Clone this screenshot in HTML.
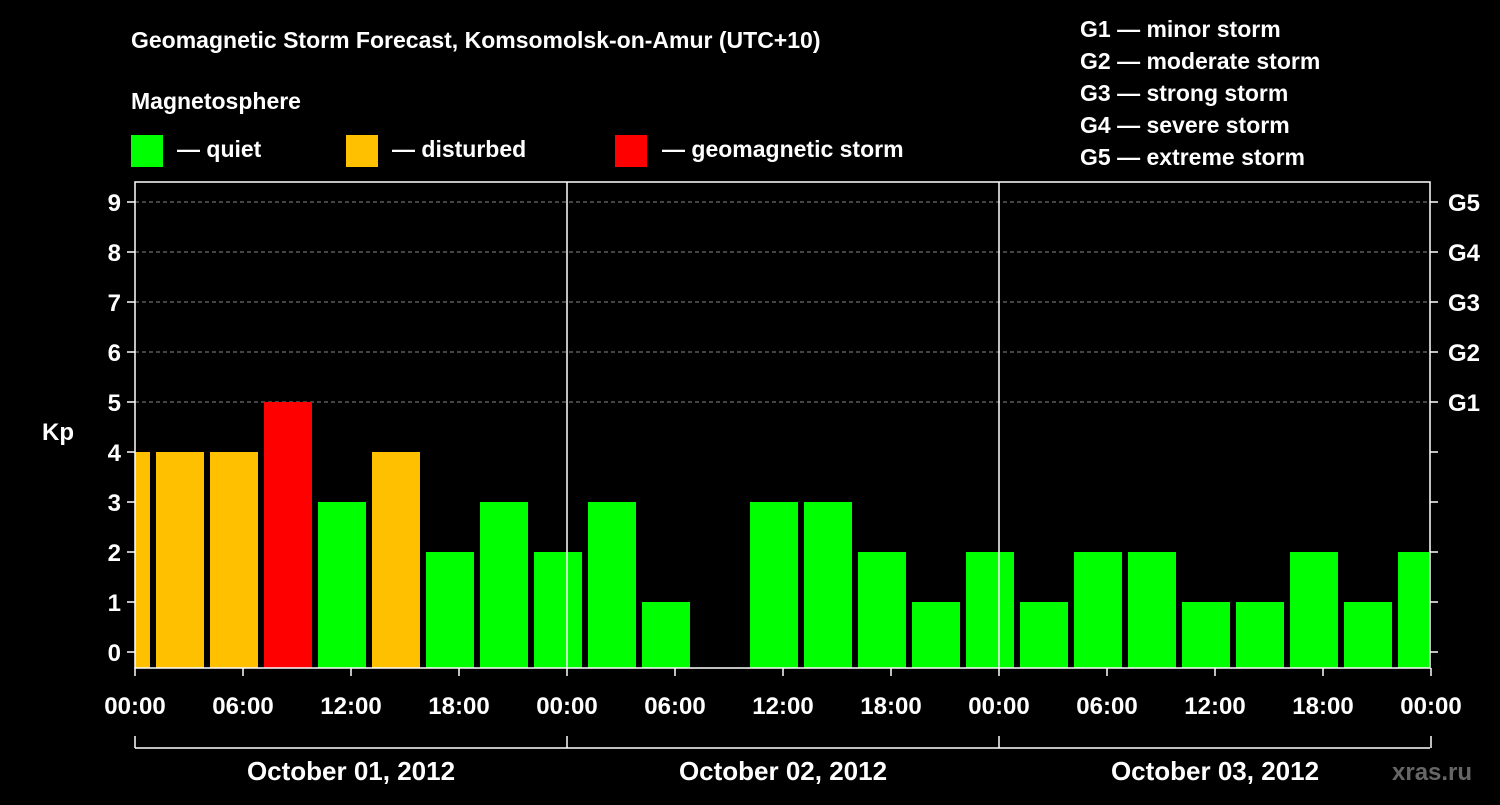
<!DOCTYPE html>
<html><head><meta charset="utf-8"><style>
body{margin:0;background:#000;}
svg text{font-family:"Liberation Sans",Arial,sans-serif;font-weight:bold;fill:#fff;}
</style></head><body>
<svg id="chart" width="1500" height="800" xmlns="http://www.w3.org/2000/svg">
<rect width="1500" height="800" fill="#000"/>
<text x="131" y="48" font-size="23">Geomagnetic Storm Forecast, Komsomolsk-on-Amur (UTC+10)</text>
<text x="131" y="109" font-size="23">Magnetosphere</text>
<g>
<rect x="131" y="135" width="32" height="32" fill="#00ff00"/>
<text x="177" y="157" font-size="23">— quiet</text>
<rect x="346" y="135" width="32" height="32" fill="#ffc000"/>
<text x="392" y="157" font-size="23">— disturbed</text>
<rect x="615" y="135" width="32" height="32" fill="#ff0000"/>
<text x="662" y="157" font-size="23">— geomagnetic storm</text>
</g>
<g font-size="23">
<text x="1080" y="37">G1 — minor storm</text>
<text x="1080" y="69">G2 — moderate storm</text>
<text x="1080" y="101">G3 — strong storm</text>
<text x="1080" y="133">G4 — severe storm</text>
<text x="1080" y="165">G5 — extreme storm</text>
</g>
<text x="42" y="440" font-size="24">Kp</text>
<text x="1392" y="780" font-size="24" style="fill:#666">xras.ru</text>
<g id="grid"></g><g id="bars"></g><g id="axes"></g>
</svg>
<script>
const kpValues=[4,4,4,5,3,4,2,3,2,3,1,0,3,3,2,1,2,1,2,2,1,1,2,1,2];
const yTicks=[0,1,2,3,4,5,6,7,8,9];
const gLabels=["","","","","","G1","G2","G3","G4","G5"];
const xTickLabels=["00:00","06:00","12:00","18:00","00:00","06:00","12:00","18:00","00:00","06:00","12:00","18:00","00:00"];
const dayLabels=["October 01, 2012","October 02, 2012","October 03, 2012"];
const NS="http://www.w3.org/2000/svg";
const L=135,R=1430,T=182,B=668;
const xh=h=>L+h*18; // hours -> px
const yk=v=>652-v*50;
function mk(tag,attrs,parent){const e=document.createElementNS(NS,tag);for(const k in attrs)e.setAttribute(k,attrs[k]);parent.appendChild(e);return e;}
const grid=document.getElementById('grid'),bars=document.getElementById('bars'),axes=document.getElementById('axes');
yTicks.forEach(v=>{
 if(v>=5){const g=mk('line',{x1:L,x2:R,y1:yk(v),y2:yk(v),stroke:'#888','stroke-dasharray':'4,3','stroke-width':1},grid);
 
 }
 mk('line',{x1:L-8,x2:L,y1:yk(v),y2:yk(v),stroke:'#fff','stroke-width':1.5},axes);
 mk('line',{x1:R,x2:R+8,y1:yk(v),y2:yk(v),stroke:'#fff','stroke-width':1.5},axes);
 const t=mk('text',{x:L-14,y:yk(v)+9,'font-size':24,'text-anchor':'end'},axes);t.textContent=v;
 
 
 if(gLabels[v]){const g=mk('text',{x:R+18,y:yk(v)+9,'font-size':24},axes);g.textContent=gLabels[v];
 
 }
});
kpValues.forEach((v,i)=>{
 if(v<=0)return;
 let x0=xh(3*i-2)+3,x1=x0+48;
 x0=Math.max(x0,L);x1=Math.min(x1,R-1);
 const c=v>=5?'#ff0000':(v>=4?'#ffc000':'#00ff00');
 const r=mk('rect',{x:x0,y:yk(v),width:x1-x0,height:B-yk(v),fill:c},bars);
 
 
});
mk('rect',{x:L,y:T,width:R-L,height:B-T,fill:'none',stroke:'#fff','stroke-width':1.5},axes);
[1,2].forEach(d=>mk('line',{x1:xh(24*d),x2:xh(24*d),y1:T,y2:B,stroke:'#fff','stroke-width':1.5},axes));
xTickLabels.forEach((s,i)=>{
 const x=xh(i*6);
 mk('line',{x1:x,x2:x,y1:B,y2:B+8,stroke:'#fff','stroke-width':1.5},axes);
 const t=mk('text',{x:x,y:714,'font-size':24,'text-anchor':'middle'},axes);t.textContent=s;
 
 
});
mk('line',{x1:L,x2:R,y1:748,y2:748,stroke:'#fff','stroke-width':1.5},axes);
[0,1,2,3].forEach(d=>mk('line',{x1:xh(24*d),x2:xh(24*d),y1:736,y2:748,stroke:'#fff','stroke-width':1.5},axes));
dayLabels.forEach((s,d)=>{
 const t=mk('text',{x:xh(24*d+12),y:780,'font-size':26,'text-anchor':'middle'},axes);t.textContent=s;
 
 
});
</script>
</body></html>
